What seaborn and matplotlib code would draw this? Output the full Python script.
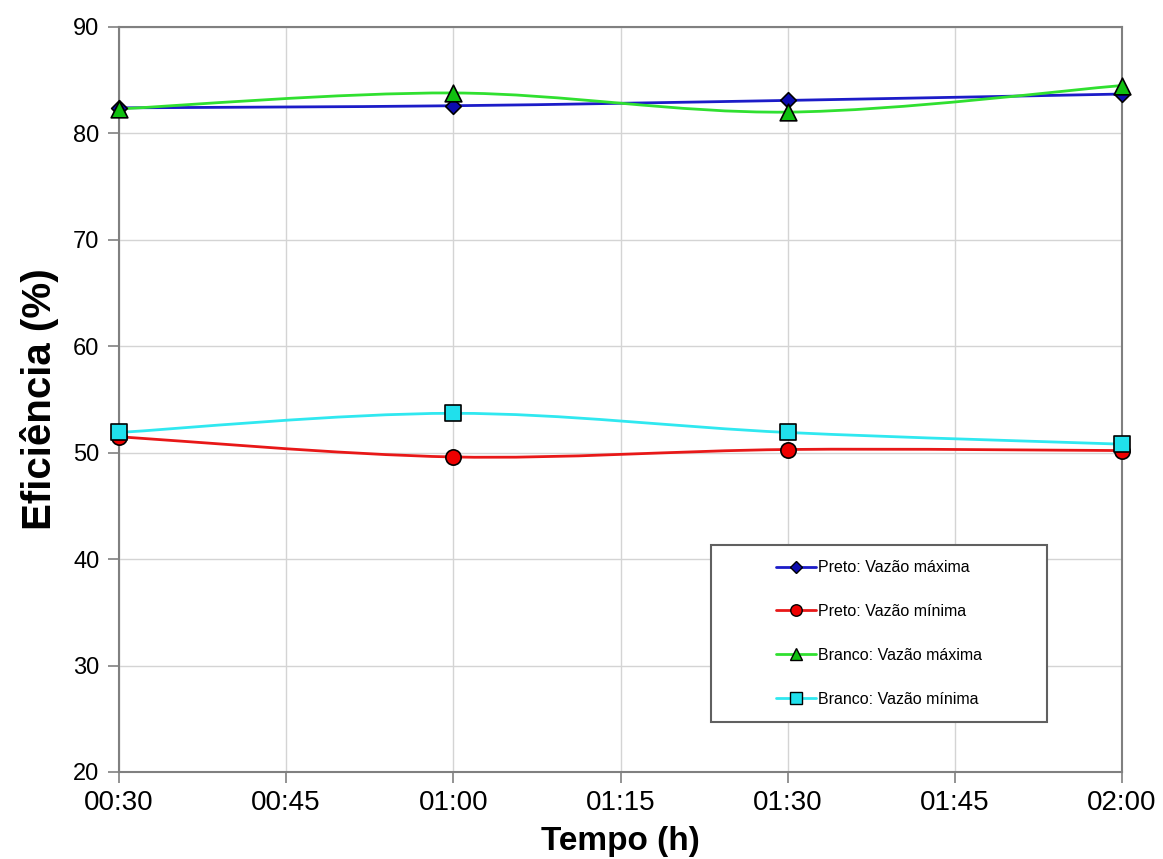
import numpy as np
import pandas as pd
import matplotlib
matplotlib.use("Agg")
import matplotlib.pyplot as plt
import seaborn as sns
from matplotlib.path import Path
from matplotlib.patches import PathPatch, Rectangle
from matplotlib.lines import Line2D

# ---- data ----
minutes = [30, 60, 90, 120]
tick_minutes = [30, 45, 60, 75, 90, 105, 120]
tick_labels = ["00:30", "00:45", "01:00", "01:15", "01:30", "01:45", "02:00"]

preto_max = [82.4, 82.6, 83.1, 83.7]
preto_min = [51.5, 49.6, 50.3, 50.2]
branco_max = [82.3, 83.8, 82.0, 84.5]
branco_min = [51.9, 53.7, 51.9, 50.8]

series_names = ["Preto: Vazão máxima", "Preto: Vazão mínima",
                "Branco: Vazão máxima", "Branco: Vazão mínima"]
series_values = [preto_max, preto_min, branco_max, branco_min]

df = pd.DataFrame({
    "t": minutes * 4,
    "v": preto_max + preto_min + branco_max + branco_min,
    "s": sum([[n] * len(minutes) for n in series_names], []),
})

line_colors = ["#1c1cc8", "#e81818", "#30e030", "#30e8f0"]
marker_faces = ["#0c0cb0", "#ee0000", "#10c010", "#20e0ec"]
markers = ["D", "o", "^", "s"]
msizes = [8, 11, 12, 11]

sns.set_theme(style="white")
plt.rcParams["font.family"] = ["Liberation Sans", "DejaVu Sans"]
plt.rcParams["text.color"] = "black"
plt.rcParams["axes.labelcolor"] = "black"

fig = plt.figure(figsize=(11.63, 8.59), dpi=100)
ax = fig.add_axes([0.1023, 0.1013, 0.8625, 0.8673])

# markers via seaborn
for i, name in enumerate(series_names):
    sub = df[df["s"] == name]
    sns.scatterplot(data=sub, x="t", y="v", ax=ax, marker=markers[i],
                    s=msizes[i] ** 2, color=marker_faces[i],
                    edgecolor="black", linewidth=1.2, zorder=5, legend=False,
                    clip_on=False)


def smooth_path(xs, ys):
    # Excel-style smoothed line (cubic Bezier through data points)
    xs = np.asarray(xs, float)
    ys = np.asarray(ys, float)
    n = len(xs)
    verts = [(xs[0], ys[0])]
    codes = [Path.MOVETO]
    for k in range(n - 1):
        p0 = np.array([xs[max(k - 1, 0)], ys[max(k - 1, 0)]])
        p1 = np.array([xs[k], ys[k]])
        p2 = np.array([xs[k + 1], ys[k + 1]])
        p3 = np.array([xs[min(k + 2, n - 1)], ys[min(k + 2, n - 1)]])
        c1 = p1 + (p2 - p0) / 6.0
        c2 = p2 - (p3 - p1) / 6.0
        verts += [tuple(c1), tuple(c2), tuple(p2)]
        codes += [Path.CURVE4] * 3
    return Path(verts, codes)


for i, vals in enumerate(series_values):
    patch = PathPatch(smooth_path(minutes, vals), facecolor="none",
                      edgecolor=line_colors[i], linewidth=2.0, zorder=4)
    ax.add_patch(patch)

ax.set_xlim(30, 120)
ax.set_ylim(20, 90)
ax.set_xticks(tick_minutes)
ax.set_xticklabels(tick_labels)
ax.set_yticks(np.arange(20, 91, 10))

ax.grid(True, color="#d4d4d4", linewidth=1.0)
for sp in ax.spines.values():
    sp.set_color("#808080")
    sp.set_linewidth(1.5)
    sp.set_visible(True)
ax.tick_params(axis="both", which="major", direction="out", length=8,
               width=1.2, color="#808080", labelcolor="black",
               left=True, bottom=True)
ax.tick_params(axis="x", labelsize=20, pad=5)
ax.tick_params(axis="y", labelsize=17, pad=6)

ax.set_xlabel("Tempo (h)", fontsize=24, fontweight="bold", labelpad=7)
ax.set_ylabel("Eficiência (%)", fontsize=29, fontweight="bold", labelpad=10)

# legend frame + entries
ax.add_patch(Rectangle((0.590, 0.067), 0.335, 0.238, transform=ax.transAxes,
                       facecolor="white", edgecolor="#606060", linewidth=1.5,
                       zorder=6))
handles = [Line2D([0], [0], color=line_colors[i], lw=2, marker=markers[i],
                  markerfacecolor=marker_faces[i], markeredgecolor="black",
                  markersize=msizes[i] * 0.75) for i in range(4)]
leg = ax.legend(handles, series_names, loc="center",
                bbox_to_anchor=(0.7575, 0.186), frameon=False,
                prop={"family": ["Liberation Sans Narrow", "Liberation Sans"],
                      "size": 11.5},
                handlelength=2.5, handletextpad=0.1, labelspacing=1.8)
leg.set_zorder(7)

fig.savefig("out.png", dpi=100, facecolor="white")
